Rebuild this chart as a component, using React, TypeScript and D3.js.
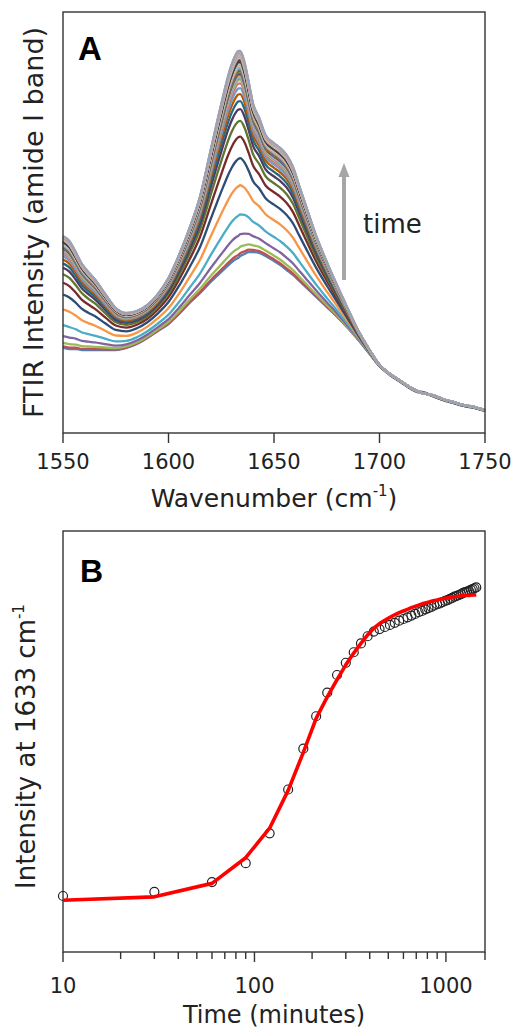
import React from "react";
import * as d3 from "d3";

// ---------- Panel A data (FTIR amide I band) ----------
const wavenumbers = [
  1550, 1553, 1556, 1559, 1562, 1565, 1570, 1575, 1580, 1585, 1590, 1595, 1600, 1605, 1610, 1615, 1620, 1623,
  1626, 1628, 1630, 1632, 1633, 1634, 1636, 1638, 1640, 1643, 1646, 1650, 1653, 1656, 1659, 1662, 1665, 1670,
  1675, 1680, 1685, 1690, 1695, 1700, 1705, 1710, 1715, 1718, 1720, 1725, 1730, 1735, 1740, 1745, 1750,
];
// spectrum at the first time point (10 min)
const initialSpectrum = [
  0.085, 0.084, 0.084, 0.083, 0.083, 0.083, 0.083, 0.083, 0.085, 0.089, 0.095, 0.102, 0.109, 0.119, 0.13, 0.14,
  0.151, 0.157, 0.163, 0.167, 0.171, 0.174, 0.175, 0.177, 0.179, 0.181, 0.181, 0.18, 0.177, 0.172, 0.168, 0.163,
  0.158, 0.152, 0.146, 0.136, 0.126, 0.116, 0.105, 0.093, 0.08, 0.067, 0.058, 0.051, 0.044, 0.041, 0.041, 0.037,
  0.033, 0.03, 0.027, 0.025, 0.022,
];
// spectrum at the last time point (1440 min)
const finalSpectrum = [
  0.197, 0.192, 0.181, 0.169, 0.161, 0.154, 0.139, 0.125, 0.12, 0.122, 0.128, 0.139, 0.155, 0.178, 0.205, 0.237,
  0.283, 0.311, 0.338, 0.355, 0.369, 0.379, 0.382, 0.382, 0.371, 0.351, 0.33, 0.315, 0.298, 0.29, 0.285, 0.278,
  0.266, 0.247, 0.228, 0.197, 0.171, 0.147, 0.124, 0.102, 0.084, 0.068, 0.059, 0.052, 0.045, 0.042, 0.04, 0.038,
  0.034, 0.031, 0.028, 0.026, 0.023,
];
const seriesColors = [
  "#4F81BD", "#C0504D", "#9BBB59", "#8064A2", "#4BACC6", "#F79646",
  "#2C4D75", "#772C2A", "#5F7530", "#4D3B62", "#276A7C", "#B65708",
  "#729ACA", "#CD7371", "#AFC97A", "#9983B5", "#6FBDD1", "#F9AB6B",
  "#3A679C", "#9F3B38", "#7E9D40", "#664F83", "#358CA3", "#E07A23",
  "#95B3D7", "#D99694", "#C3D69B", "#B3A2C7", "#93CDDD", "#FAC090",
  "#254061", "#632523", "#4F6228", "#3F3151", "#205867", "#974806",
  "#B9CDE5", "#E6B9B8", "#8C8C8C", "#CCC1DA", "#D9A3A1", "#FCD5B5",
  "#7F7F7F", "#D4A4A2", "#A6A6A6", "#8EA3B8", "#DDAFAD", "#D6A19E", "#97A4B4",
];
const xTicksA = [1550, 1600, 1650, 1700, 1750];

// ---------- Panel B data (intensity at 1633 cm-1 vs time) ----------
const times = [
  10, 30, 60, 90, 120, 150, 180, 210, 240, 270, 300, 330, 360, 390, 420, 450, 480, 510, 540, 570, 600, 630, 660,
  690, 720, 750, 780, 810, 840, 870, 900, 930, 960, 990, 1020, 1050, 1080, 1110, 1140, 1170, 1200, 1230, 1260,
  1290, 1320, 1350, 1380, 1410, 1440,
];
const intensity1633 = [
  13.3, 14.3, 16.6, 21.1, 28.2, 38.6, 48.3, 56.0, 61.6, 65.8, 68.7, 71.2, 73.3, 75.0, 76.1, 76.7, 77.2, 77.7, 78.2,
  78.7, 79.1, 79.5, 79.9, 80.3, 80.7, 81.0, 81.4, 81.7, 82.0, 82.3, 82.6, 82.8, 83.1, 83.4, 83.6, 83.9, 84.1, 84.4,
  84.6, 84.8, 85.0, 85.3, 85.5, 85.6, 85.8, 86.0, 86.2, 86.4, 86.6,
];
const fit1633 = [
  12.3, 13.1, 16.3, 22.4, 29.4, 38.4, 47.4, 55.5, 60.6, 64.7, 68.2, 71.0, 73.3, 75.3, 76.9, 78.0, 78.8, 79.5, 80.1,
  80.6, 81.0, 81.4, 81.8, 82.1, 82.4, 82.7, 82.9, 83.1, 83.3, 83.5, 83.6, 83.8, 83.9, 84.0, 84.1, 84.2, 84.3, 84.4,
  84.5, 84.5, 84.6, 84.6, 84.7, 84.7, 84.7, 84.8, 84.8, 84.8, 84.8,
];
const xTicksBLabels = [10, 100, 1000];

const FONT = "DejaVu Sans";

export default function App() {
  const W = 517;
  const H = 1029;
  const A = { left: 63, right: 485, top: 12, bottom: 433 };
  const B = { left: 63, right: 485, top: 531, bottom: 952 };

  const xA = d3.scaleLinear().domain([1550, 1750]).range([A.left, A.right]);
  const yA = d3.scaleLinear().domain([0, 0.421]).range([A.bottom, A.top]);
  const xB = d3.scaleLog().domain([10, 1600]).range([B.left, B.right]);
  const yB = d3.scaleLinear().domain([0, 100]).range([B.bottom, B.top]);

  const i0 = intensity1633[0];
  const iN = intensity1633[intensity1633.length - 1];
  const spectra = intensity1633.map((v) => {
    const f = (v - i0) / (iN - i0);
    return initialSpectrum.map((s, j) => s + f * (finalSpectrum[j] - s));
  });

  const specLine = d3
    .line<number>()
    .x((_, j) => xA(wavenumbers[j]))
    .y((v) => yA(v))
    .curve(d3.curveMonotoneX);

  const fitLine = d3
    .line<number>()
    .x((_, i) => xB(times[i]))
    .y((v) => yB(v));

  const minorTicks = xB.ticks().filter((t) => t >= 10 && t <= 1600);
  const axisColor = "#333";

  return (
    <svg
      width={W}
      height={H}
      style={{ position: "absolute", left: 0, top: 0, display: "block", background: "#fff" }}
      fontFamily={FONT}
    >
      <rect x={0} y={0} width={W} height={H} fill="#fff" />
      {/* ---------- Panel A ---------- */}
      <g>
        {spectra.map((s, i) => (
          <path
            key={i}
            d={specLine(s) || ""}
            fill="none"
            stroke={seriesColors[i % seriesColors.length]}
            strokeWidth={2.3}
            strokeLinejoin="round"
          />
        ))}
        <rect
          x={A.left}
          y={A.top}
          width={A.right - A.left}
          height={A.bottom - A.top}
          fill="none"
          stroke={axisColor}
          strokeWidth={1.4}
        />
        {xTicksA.map((t) => (
          <g key={t}>
            <line x1={xA(t)} x2={xA(t)} y1={A.bottom} y2={A.bottom + 10} stroke={axisColor} strokeWidth={1.4} />
            <text x={xA(t)} y={469} textAnchor="middle" fontSize={21} fill="#222">
              {t}
            </text>
          </g>
        ))}
        <text x={A.left + (A.right - A.left) / 2} y={507} textAnchor="middle" fontSize={25} fill="#222">
          Wavenumber (cm
          <tspan fontSize={15} dy={-11}>
            -1
          </tspan>
          <tspan dy={11}>)</tspan>
        </text>
        <text
          transform={`translate(43,${(A.top + A.bottom) / 2}) rotate(-90)`}
          textAnchor="middle"
          fontSize={27}
          fill="#222"
        >
          FTIR Intensity (amide I band)
        </text>
        <text x={78} y={60} fontFamily="Liberation Sans" fontWeight="bold" fontSize={33} fill="#000">
          A
        </text>
        {/* time arrow */}
        <line x1={344} x2={344} y1={280} y2={174} stroke="#a6a6a6" strokeWidth={4} />
        <polygon points="344,163 338.5,177 349.5,177" fill="#a6a6a6" />
        <text x={363} y={233} fontSize={26} fill="#222">
          time
        </text>
      </g>

      {/* ---------- Panel B ---------- */}
      <g>
        <rect
          x={B.left}
          y={B.top}
          width={B.right - B.left}
          height={B.bottom - B.top}
          fill="none"
          stroke={axisColor}
          strokeWidth={1.4}
        />
        {minorTicks.map((t) => {
          const major = xTicksBLabels.includes(t);
          return (
            <line
              key={t}
              x1={xB(t)}
              x2={xB(t)}
              y1={B.bottom}
              y2={B.bottom + (major ? 10 : 7)}
              stroke={axisColor}
              strokeWidth={1.4}
            />
          );
        })}
        <line x1={B.right} x2={B.right} y1={B.bottom} y2={B.bottom + 8} stroke={axisColor} strokeWidth={1.4} />
        {xTicksBLabels.map((t) => (
          <text key={t} x={xB(t)} y={993} textAnchor="middle" fontSize={21} fill="#222">
            {t}
          </text>
        ))}
        <text x={B.left + (B.right - B.left) / 2} y={1023} textAnchor="middle" fontSize={24} fill="#222">
          Time (minutes)
        </text>
        <text
          transform={`translate(35,${(B.top + B.bottom) / 2 + 5}) rotate(-90)`}
          textAnchor="middle"
          fontSize={26}
          fill="#222"
        >
          Intensity at 1633 cm
          <tspan fontSize={15} dy={-11}>
            -1
          </tspan>
        </text>
        <text x={80} y={582} fontFamily="Liberation Sans" fontWeight="bold" fontSize={32} fill="#000">
          B
        </text>
        {intensity1633.map((v, i) => (
          <circle
            key={i}
            cx={xB(times[i])}
            cy={yB(v)}
            r={4.5}
            fill="none"
            stroke="#222"
            strokeWidth={1.2}
          />
        ))}
        <path d={fitLine(fit1633) || ""} fill="none" stroke="#ff0000" strokeWidth={3.6} strokeLinejoin="round" />
      </g>
    </svg>
  );
}
